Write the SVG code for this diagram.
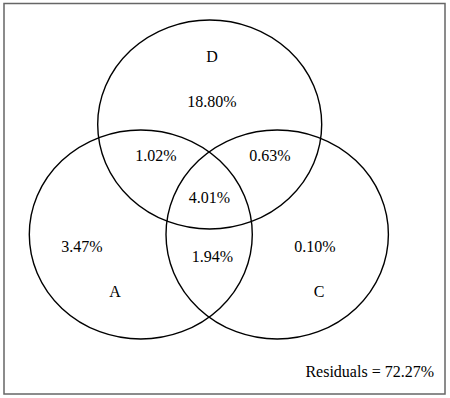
<svg xmlns="http://www.w3.org/2000/svg" width="450" height="398" viewBox="0 0 450 398">
<style>
.c{fill:none;stroke:#000;stroke-width:1.4}
text{font-family:"Liberation Serif","Times New Roman",serif;font-size:16px;fill:#000;text-anchor:middle}
</style>
<rect x="0" y="0" width="450" height="398" fill="#fff"/>
<rect id="frame" x="4" y="3.5" width="441" height="390.5" fill="none" stroke="#666" stroke-width="1.5"/>
<g id="set-D"><ellipse class="c" cx="209.7" cy="124.5" rx="112" ry="104.5"/><text x="212" y="62">D</text></g>
<g id="set-A"><ellipse class="c" cx="140.8" cy="234.5" rx="111.5" ry="104.5"/><text x="115" y="297">A</text></g>
<g id="set-C"><ellipse class="c" cx="277.2" cy="234.5" rx="111.2" ry="104.5"/><text x="319" y="297">C</text></g>
<g id="labels">
<text x="212" y="107">18.80%</text>
<text x="156" y="161">1.02%</text>
<text x="270" y="161">0.63%</text>
<text x="209.5" y="203">4.01%</text>
<text x="82" y="252">3.47%</text>
<text x="212.5" y="262">1.94%</text>
<text x="315" y="252">0.10%</text>
<text x="434" y="377" style="text-anchor:end">Residuals = 72.27%</text>
</g>
</svg>
